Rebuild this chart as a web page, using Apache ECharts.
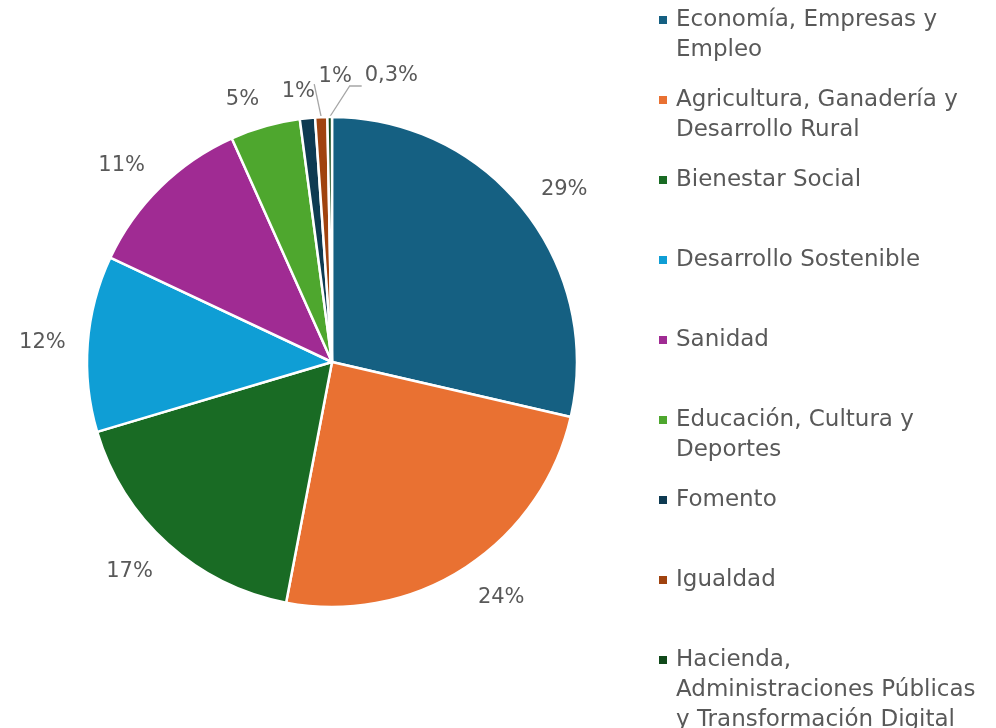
<!DOCTYPE html>
<html><head><meta charset="utf-8">
<script src="https://cdn.jsdelivr.net/npm/echarts@6/dist/echarts.min.js"></script>
<style>html,body{margin:0;padding:0;background:#fff}#c{width:996px;height:728px}</style>
</head><body><div id="c"></div>
<script>
const legendLines = [
  ["Economía, Empresas y", "Empleo"],
  ["Agricultura, Ganadería y", "Desarrollo Rural"],
  ["Bienestar Social"],
  ["Desarrollo Sostenible"],
  ["Sanidad"],
  ["Educación, Cultura y", "Deportes"],
  ["Fomento"],
  ["Igualdad"],
  ["Hacienda,", "Administraciones Públicas", "y Transformación Digital"]
];
const categories = legendLines.map(l => l.join(" "));
const values = [28.6, 24.4, 17.4, 11.6, 11.3, 4.6, 1.0, 0.8, 0.3];
const colors = ["#156082", "#E97132", "#196B24", "#0F9ED5", "#A02B93", "#4EA72E", "#0E3A52", "#A0430F", "#10491A"];

const FONT = "DejaVu Sans";
const TXT = "#595959";
const fmt = v => v < 0.5 ? v.toFixed(1).replace(".", ",") + "%" : Math.round(v) + "%";

const CX = 332, CY = 362, R = 245, LABEL_D = 267, LINE_H = 30;

// mid angle of every slice (radians, clockwise from 12 o'clock), from the data
const total = values.reduce((a, b) => a + b, 0);
const midAngles = [];
values.reduce((acc, v) => { midAngles.push((acc + v / 2) / total * 2 * Math.PI); return acc + v; }, 0);

// label offsets for the thin slices, relative to the slice edge point
const smallOffsets = {
  6: { dx: -9, dy: -27, align: "center", line: null },
  7: { dx: 14, dy: -41, align: "center", line: [[-7, -33], [-7, -33]] },
  8: { dx: 35, dy: -41, align: "left", line: [[20, -31], [32, -31]] }
};

const clamp = v => Math.max(-1, Math.min(1, v));

const data = categories.map((name, i) => ({
  name, value: values[i],
  itemStyle: { color: colors[i] },
  labelLine: { show: values[i] < 2, lineStyle: { color: "#a6a6a6", width: 1.3, opacity: smallOffsets[i] && smallOffsets[i].line ? 1 : 0 } }
}));

const legends = legendLines.map((lines, i) => {
  const n = lines.length;
  const c = 20 + 80 * i;
  return {
    orient: "vertical",
    left: 659,
    top: c - (2 * n - 1) * LINE_H / 2,
    padding: 0,
    itemWidth: 8, itemHeight: 8,
    icon: "rect",
    itemStyle: { borderWidth: 0 },
    selectedMode: false,
    data: [categories[i]],
    formatter: () => "\n".repeat(n - 1) + lines.join("\n"),
    textStyle: { fontFamily: FONT, fontSize: 23, color: TXT, lineHeight: LINE_H, padding: [0, 0, 0, 4] }
  };
});

const chart = echarts.init(document.getElementById("c"), null, { renderer: "canvas" });
chart.setOption({
  animation: false,
  backgroundColor: "#fff",
  color: colors,
  legend: legends,
  series: [
    {
      type: "pie",
      center: [CX, CY],
      radius: R,
      startAngle: 90,
      clockwise: true,
      avoidLabelOverlap: false,
      silent: true,
      itemStyle: { borderColor: "#fff", borderWidth: 2.5 },
      label: {
        position: "outside",
        formatter: p => fmt(p.value),
        fontFamily: FONT, fontSize: 21, color: TXT
      },
      labelLine: { length: 10, length2: 10 },
      labelLayout: p => {
        const i = p.dataIndex;
        const o = smallOffsets[i];
        if (o) {
          if (!p.labelLinePoints) return {};
          const e = p.labelLinePoints[0];
          const res = { x: e[0] + o.dx, y: e[1] + o.dy, align: o.align, verticalAlign: "middle" };
          if (o.line) res.labelLinePoints = [e, [e[0] + o.line[0][0], e[1] + o.line[0][1]], [e[0] + o.line[1][0], e[1] + o.line[1][1]]];
          return res;
        }
        // best-fit style: the label box's nearest corner sits just outside the pie, along the mid angle
        const a = midAngles[i];
        const sx = Math.sin(a), sy = -Math.cos(a);
        const px = CX + LABEL_D * sx, py = CY + LABEL_D * sy;
        const hw = p.labelRect.width / 2, hh = 9;
        return {
          x: px + hw * clamp(sx * 4),
          y: py + hh * clamp(sy * 4) + 3,
          align: "center",
          verticalAlign: "middle"
        };
      },
      data
    }
  ]
});
</script></body></html>
